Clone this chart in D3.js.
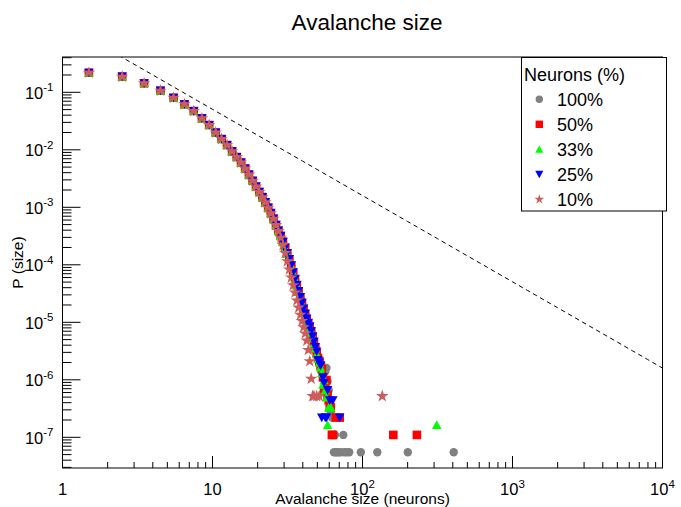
<!DOCTYPE html>
<html><head><meta charset="utf-8">
<script src="https://cdn.jsdelivr.net/npm/d3@7"></script>
<style>body{margin:0;background:#fff} text{font-family:"Liberation Sans",Arial,Helvetica,sans-serif;fill:#000}</style>
</head><body><svg id="c" width="681" height="507"></svg>
<script>
// ---- data ----
const commonSizes = [1.5,2.5,3.5,4.5,5.5,6.5,7.5,8.5,9.5,10.5,11.5,12.5,13.5,14.5,15.5,16.5,17.5,18.5,19.5,20.5,21.5];
const commonProb  = [0.219,0.187,0.1435,0.1066,0.0805,0.0618,0.0473,0.0353,0.0270,0.0200,0.0154,0.0121,0.0094,0.0075,0.0060,0.0047,0.0037,0.0029,0.0023,0.00185,0.00150];

const sizes100 = [22.5,23.5,24.5,25.5,26.5,27.5,28.5,29.5,30.5,31.5,32.5,33.5,34.5,35.5,36.5,37.5,38.5,39.5,40.5,41.5,42.5,43.5,44.5,45.5,46.5,47.5,48.5,49.5,50.5,51.5,52.5,53.5,54.5,55.5,56.5,57.5,58.5,59.5,60.5,61.5,62.5,63.5,64.5,65.5,66.5,67.5,69.5,71.5,74.5,75.5,78.5,81.5,97.5,125.5,200.5,405.5];
const prob100  = [1.22e-3,9.8e-4,7.9e-4,6.3e-4,4.9e-4,3.9e-4,3.17e-4,2.5e-4,1.98e-4,1.58e-4,1.25e-4,9.7e-5,7.3e-5,5.6e-5,4.4e-5,3.4e-5,2.7e-5,2.14e-5,1.7e-5,1.4e-5,1.15e-5,9.6e-6,8.3e-6,6.9e-6,5.6e-6,4.3e-6,3.6e-6,3.0e-6,2.5e-6,2.2e-6,2.0e-6,1.8e-6,1.6e-6,1.5e-6,1.4e-6,1.6e-6,9.4e-7,6.6e-7,4.4e-7,2.75e-7,2.2e-7,1.1e-7,5.5e-8,1.1e-7,5.5e-8,5.5e-8,5.5e-8,5.5e-8,1.1e-7,5.5e-8,5.5e-8,5.5e-8,5.5e-8,5.5e-8,5.5e-8,5.5e-8];

const sizes50 = [22.5,23.5,24.5,25.5,26.5,27.5,28.5,29.5,30.5,31.5,32.5,33.5,34.5,35.5,36.5,37.5,38.5,39.5,40.5,41.5,42.5,43.5,44.5,45.5,46.5,47.5,48.5,49.5,50.5,51.5,52.5,53.5,54.5,55.5,56.5,57.5,58.5,59.5,60.5,61.5,62.5,63.5,66.5,70.5,160.5,230.5];
const prob50  = [1.22e-3,9.8e-4,7.9e-4,6.3e-4,4.9e-4,3.9e-4,3.17e-4,2.5e-4,1.98e-4,1.58e-4,1.25e-4,9.7e-5,7.3e-5,5.6e-5,4.4e-5,3.4e-5,2.7e-5,2.14e-5,1.7e-5,1.38e-5,1.12e-5,9.4e-6,8.1e-6,6.7e-6,5.5e-6,4.3e-6,3.5e-6,2.9e-6,2.4e-6,2.1e-6,1.76e-6,1.54e-6,1.1e-6,6.6e-7,7.7e-7,9.9e-7,5.5e-7,4.4e-7,3.3e-7,3.3e-7,1.1e-7,1.1e-7,2.2e-7,2.2e-7,1.1e-7,1.1e-7];

const sizes33 = [22.5,23.5,24.5,25.5,26.5,27.5,28.5,29.5,30.5,31.5,32.5,33.5,34.5,35.5,36.5,37.5,38.5,39.5,40.5,41.5,42.5,43.5,44.5,45.5,46.5,47.5,48.5,49.5,50.5,51.5,52.5,53.5,54.5,55.5,56.5,57.5,58.5,59.5,60.5,61.5,312.5];
const prob33  = [1.22e-3,9.8e-4,7.9e-4,6.3e-4,4.9e-4,3.9e-4,3.17e-4,2.5e-4,1.98e-4,1.58e-4,1.25e-4,9.7e-5,7.3e-5,5.6e-5,4.4e-5,3.4e-5,2.7e-5,2.14e-5,1.7e-5,1.38e-5,1.12e-5,9.4e-6,8.0e-6,6.6e-6,5.4e-6,4.3e-6,3.5e-6,2.8e-6,2.3e-6,1.98e-6,1.65e-6,1.32e-6,8.25e-7,9.9e-7,6.6e-7,4.95e-7,1.65e-7,3.3e-7,3.3e-7,3.3e-7,1.65e-7];

const sizes25 = [22.5,23.5,24.5,25.5,26.5,27.5,28.5,29.5,30.5,31.5,32.5,33.5,34.5,35.5,36.5,37.5,38.5,39.5,40.5,41.5,42.5,43.5,44.5,45.5,46.5,47.5,48.5,49.5,50.5,51.5,52.5,53.5,54.5,55.5,56.5,57.5,58.5,60.5,63.5,70.5];
const prob25  = [1.23e-3,9.9e-4,8.0e-4,6.35e-4,4.95e-4,3.95e-4,3.2e-4,2.52e-4,2.0e-4,1.6e-4,1.26e-4,9.8e-5,7.4e-5,5.7e-5,4.5e-5,3.5e-5,2.75e-5,2.2e-5,1.74e-5,1.42e-5,1.16e-5,9.8e-6,8.5e-6,7.0e-6,5.7e-6,4.6e-6,3.7e-6,3.1e-6,2.2e-6,2.0e-6,1.76e-6,2.2e-7,1.1e-6,8.8e-7,2.2e-7,2.2e-7,6.6e-7,4.4e-7,4.4e-7,2.2e-7];

const sizes10 = [22.5,23.5,24.5,25.5,26.5,27.5,28.5,29.5,30.5,31.5,32.5,33.5,34.5,35.5,36.5,37.5,38.5,39.5,40.5,41.5,42.5,43.5,44.5,45.5,46.5,47.5,49.5,51.5,135.5];
const prob10  = [1.22e-3,9.8e-4,7.9e-4,6.3e-4,4.9e-4,3.85e-4,2.95e-4,2.2e-4,1.6e-4,1.15e-4,8.3e-5,6.0e-5,4.4e-5,3.3e-5,2.4e-5,1.8e-5,1.35e-5,1.05e-5,8.2e-6,6.4e-6,4.8e-6,3.3e-6,2.1e-6,1.04e-6,5.2e-7,5.2e-7,5.2e-7,5.2e-7,5.2e-7];

const seriesNames = ["100%","50%","33%","25%","10%"];
const xTickValues = [1,10,100,1000,10000];
const yTickExponents = [-1,-2,-3,-4,-5,-6,-7];
const powerLawC = 1.6, powerLawExp = -1.5;

// ---- layout ----
const W=681,H=507, L=62.5, R=662.5, T=57, B=468;
const svg=d3.select("#c");
const x=d3.scaleLog().domain([1,1e4]).range([L,R]);
const y=d3.scaleLog().domain([1e-7,1e-1]).range([437.3,92.3]);

svg.append("rect").attr("width",W).attr("height",H).attr("fill","#fff");
svg.append("defs").append("clipPath").attr("id","clip").append("rect")
  .attr("x",L).attr("y",T).attr("width",R-L).attr("height",B-T);

// power law dashed line
const plX=d3.range(0,4.001,0.05).map(e=>Math.pow(10,e));
svg.append("path").attr("clip-path","url(#clip)")
  .attr("d",d3.line().x(d=>x(d)).y(d=>y(powerLawC*Math.pow(d,powerLawExp)))(plX))
  .attr("fill","none").attr("stroke","#000").attr("stroke-width",1).attr("stroke-dasharray","4.5,3.6");

// markers
function marker(type,s){
  const h=s/2;
  if(type==="circle") return d3.symbol(d3.symbolCircle, Math.PI*h*h)();
  if(type==="square") return `M${-h},${-h}H${h}V${h}H${-h}Z`;
  if(type==="up") return `M0,${-h*1.05}L${h*1.1},${h*0.95}L${-h*1.1},${h*0.95}Z`;
  if(type==="down") return `M0,${h*1.05}L${h*1.1},${-h*0.95}L${-h*1.1},${-h*0.95}Z`;
  if(type==="star") return d3.symbol(d3.symbolStar, s*s*0.6)();
}
const series=[
  {name:seriesNames[0],xs:commonSizes.concat(sizes100),ys:commonProb.concat(prob100),type:"circle",color:"#808080",size:8.4},
  {name:seriesNames[1],xs:commonSizes.concat(sizes50),ys:commonProb.concat(prob50),type:"square",color:"#ff0000",size:8.6},
  {name:seriesNames[2],xs:commonSizes.concat(sizes33),ys:commonProb.concat(prob33),type:"up",color:"#00ff00",size:8.6},
  {name:seriesNames[3],xs:commonSizes.concat(sizes25),ys:commonProb.concat(prob25),type:"down",color:"#0000ff",size:8.6},
  {name:seriesNames[4],xs:commonSizes.concat(sizes10),ys:commonProb.concat(prob10),type:"star",color:"#cd5c5c",size:9}
];
const g=svg.append("g").attr("clip-path","url(#clip)");
series.forEach(s=>{
  g.selectAll(null).data(s.xs.map((v,i)=>[v,s.ys[i]])).enter().append("path")
   .attr("d",marker(s.type,s.size))
   .attr("transform",d=>`translate(${x(d[0])},${y(d[1])})`)
   .attr("fill",s.color);
});

// frame
svg.append("rect").attr("x",L).attr("y",T).attr("width",R-L).attr("height",B-T)
  .attr("fill","none").attr("stroke","#000").attr("stroke-width",1);

// y ticks
const yMinor=[]; for(let e=-8;e<=0;e++) for(let k=2;k<=9;k++){const v=k*Math.pow(10,e); if(y(v)>=T&&y(v)<=B) yMinor.push(v);}
svg.append("g").selectAll("line").data(yMinor).enter().append("line")
  .attr("x1",L).attr("x2",L+9).attr("y1",d=>y(d)).attr("y2",d=>y(d)).attr("stroke","#000");
svg.append("g").selectAll("line").data(yTickExponents).enter().append("line")
  .attr("x1",L).attr("x2",L+18).attr("y1",d=>y(Math.pow(10,d))).attr("y2",d=>y(Math.pow(10,d))).attr("stroke","#000");
const yl=svg.append("g").selectAll("text").data(yTickExponents).enter().append("text")
  .attr("x",53.5).attr("y",d=>y(Math.pow(10,d))+6.5).attr("text-anchor","end").attr("font-size",16.5);
yl.append("tspan").text("10");
yl.append("tspan").attr("dy",-7.5).attr("font-size",11.5).text(d=>"-"+(-d));

// x ticks
const xMinor=[]; for(let e=0;e<4;e++) for(let k=2;k<=9;k++) xMinor.push(k*Math.pow(10,e));
svg.append("g").selectAll("line").data(xMinor).enter().append("line")
  .attr("x1",d=>x(d)).attr("x2",d=>x(d)).attr("y1",B).attr("y2",B-6).attr("stroke","#000");
svg.append("g").selectAll("line").data(xTickValues).enter().append("line")
  .attr("x1",d=>x(d)).attr("x2",d=>x(d)).attr("y1",B).attr("y2",B-12).attr("stroke","#000");
const xl=svg.append("g").selectAll("text").data(xTickValues).enter().append("text")
  .attr("x",d=>x(d)).attr("y",495).attr("text-anchor","middle").attr("font-size",16.5);
xl.each(function(d){
  const t=d3.select(this);
  const e=Math.round(Math.log10(d));
  if(e<2){t.text(String(d));}
  else{t.append("tspan").text("10");t.append("tspan").attr("dy",-7.5).attr("font-size",11.5).text(String(e));}
});

// axis titles
svg.append("text").attr("x",362.5).attr("y",503.5).attr("text-anchor","middle").attr("font-size",15.5).text("Avalanche size (neurons)");
svg.append("text").attr("transform","translate(22.5,262.5) rotate(-90)").attr("text-anchor","middle").attr("font-size",15.5).text("P (size)");
svg.append("text").attr("x",367).attr("y",29.5).attr("text-anchor","middle").attr("font-size",22.5).text("Avalanche size");

// legend
const lg=svg.append("g");
lg.append("rect").attr("x",521.5).attr("y",57.5).attr("width",145).attr("height",153.5).attr("fill","#fff").attr("stroke","#000");
lg.append("text").attr("x",524).attr("y",81).attr("font-size",18).text("Neurons (%)");
series.forEach((s,i)=>{
  const cy=99.3+25*i;
  lg.append("path").attr("d",marker(s.type,s.type==="star"?7:7.4)).attr("transform",`translate(539.3,${cy})`).attr("fill",s.color);
  lg.append("text").attr("x",557).attr("y",cy+6.5).attr("font-size",18).text(s.name);
});
</script></body></html>
